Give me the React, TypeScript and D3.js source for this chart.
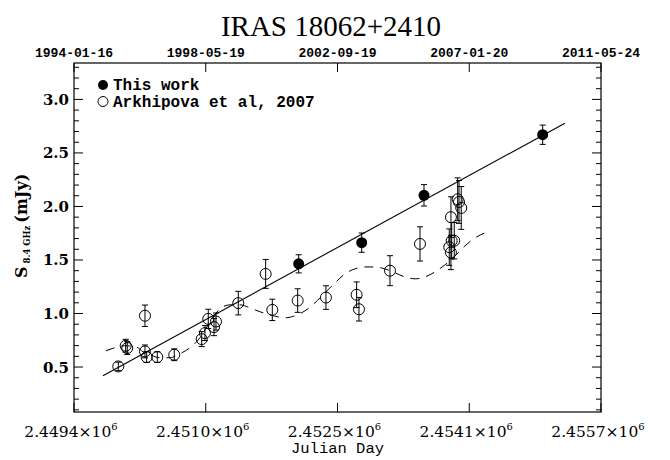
import React from "react";
import * as d3 from "d3";

// ---- data ----
const title = "IRAS 18062+2410";
const xTickJD = [2449368.5, 2450952.75, 2452537, 2454121.25, 2455705.5];
const xTopLabels = ["1994-01-16", "1998-05-19", "2002-09-19", "2007-01-20", "2011-05-24"];
const xBottomLabels = ["2.4494", "2.4510", "2.4525", "2.4541", "2.4557"];
const yMajorTicks = [0.5, 1.0, 1.5, 2.0, 2.5, 3.0];
const yMinorTicks = [0.1, 0.2, 0.3, 0.4, 0.6, 0.7, 0.8, 0.9, 1.1, 1.2, 1.3, 1.4, 1.6, 1.7, 1.8, 1.9, 2.1, 2.2, 2.3, 2.4, 2.6, 2.7, 2.8, 2.9, 3.1, 3.2, 3.3];
const yDomain = [0.08, 3.34];

// This work
const thisJD = [2452070, 2452828, 2453577, 2455004];
const thisS = [1.464, 1.662, 2.104, 2.67];
const thisErr = [0.085, 0.09, 0.1, 0.09];

// Arkhipova et al, 2007
const arkJD = [2449901, 2449990, 2450009, 2450222, 2450222, 2450242, 2450370, 2450574, 2450904, 2450943, 2450983, 2451052, 2451076, 2451344, 2451673, 2451753, 2452058, 2452398, 2452767, 2452795, 2453168, 2453529, 2453881, 2453901, 2453910, 2453941, 2453901, 2453982, 2453998, 2454025];
const arkS = [0.506, 0.699, 0.677, 0.979, 0.646, 0.593, 0.593, 0.615, 0.761, 0.817, 0.95, 0.873, 0.925, 1.097, 1.37, 1.034, 1.121, 1.149, 1.175, 1.04, 1.40, 1.65, 1.62, 1.57, 1.68, 1.68, 1.90, 2.067, 2.042, 1.986];
const arkErr = [0.04, 0.06, 0.06, 0.1, 0.06, 0.05, 0.05, 0.055, 0.07, 0.07, 0.09, 0.08, 0.08, 0.11, 0.135, 0.1, 0.11, 0.11, 0.12, 0.11, 0.14, 0.16, 0.17, 0.16, 0.17, 0.17, 0.19, 0.2, 0.2, 0.2];

// linear fit (solid)
const fitJD = [2449717, 2455272];
const fitS = [0.419, 2.778];

// dashed curve
const curveJD = [2449753, 2449837, 2449981, 2450114, 2450198, 2450282, 2450402, 2450522, 2450643, 2450763, 2450883, 2451003, 2451124, 2451244, 2451364, 2451484, 2451605, 2451725, 2451905, 2452026, 2452146, 2452266, 2452386, 2452507, 2452627, 2452747, 2452867, 2452988, 2453108, 2453228, 2453348, 2453469, 2453589, 2453709, 2453829, 2453950, 2454070, 2454190, 2454310];
const curveS = [0.652, 0.675, 0.699, 0.689, 0.643, 0.615, 0.587, 0.587, 0.625, 0.68, 0.773, 0.922, 1.044, 1.081, 1.081, 1.053, 1.016, 0.988, 0.96, 0.979, 1.025, 1.1, 1.193, 1.286, 1.37, 1.417, 1.435, 1.435, 1.417, 1.38, 1.342, 1.324, 1.342, 1.389, 1.454, 1.538, 1.632, 1.706, 1.753];

const legendLabels = ["This work", "Arkhipova et al, 2007"];

const W = 670, H = 460;
const L = 74, R = 601, T = 63, B = 412;

export default function App() {
  const x = d3.scaleLinear().domain([xTickJD[0], xTickJD[xTickJD.length - 1]]).range([L, R]);
  const y = d3.scaleLinear().domain(yDomain).range([B, T]);
  const curve = d3.line<number>().x((_, i) => x(curveJD[i])).y((d) => y(d)).curve(d3.curveMonotoneX);
  const fit = d3.line<number>().x((_, i) => x(fitJD[i])).y((d) => y(d));
  const serif = "'DejaVu Serif', serif";
  const mono = "'Liberation Mono', monospace";
  const cap = 3;

  const errBar = (jd: number, s: number, e: number, k: string) => (
    <g key={k} stroke="#000" strokeWidth={1}>
      <line x1={x(jd)} x2={x(jd)} y1={y(s - e)} y2={y(s + e)} />
      <line x1={x(jd) - cap} x2={x(jd) + cap} y1={y(s - e)} y2={y(s - e)} />
      <line x1={x(jd) - cap} x2={x(jd) + cap} y1={y(s + e)} y2={y(s + e)} />
    </g>
  );

  return (
    <svg width={W} height={H} style={{ position: "absolute", left: 0, top: 0, background: "#fff" }}>
      <rect x={0} y={0} width={W} height={H} fill="#fff" />
      <text x={331} y={36} textAnchor="middle" fontFamily="'Liberation Serif', serif" fontSize={29}>{title}</text>

      {/* frame */}
      <rect x={L} y={T} width={R - L} height={B - T} fill="none" stroke="#000" strokeWidth={1.2} />

      {/* x ticks */}
      {xTickJD.map((v, i) => (
        <g key={"xt" + i}>
          <line x1={x(v)} x2={x(v)} y1={B} y2={B - 9} stroke="#000" />
          <line x1={x(v)} x2={x(v)} y1={T} y2={T + 9} stroke="#000" />
          <text x={x(v)} y={57} textAnchor="middle" fontFamily={mono} fontWeight="bold" fontSize={13}>{xTopLabels[i]}</text>
          <text x={x(v) - 3} y={437} textAnchor="middle" fontFamily={serif} fontSize={15.5}>
            {xBottomLabels[i]}×10<tspan dy={-7} fontSize={10}>6</tspan>
          </text>
        </g>
      ))}
      <text x={(L + R) / 2} y={453} textAnchor="middle" fontFamily={mono} fontSize={15.5}>Julian Day</text>

      {/* y ticks */}
      {yMajorTicks.map((v, i) => (
        <g key={"ym" + i}>
          <line x1={L} x2={L + 9} y1={y(v)} y2={y(v)} stroke="#000" />
          <line x1={R} x2={R - 9} y1={y(v)} y2={y(v)} stroke="#000" />
          <text x={69} y={y(v) + 5.5} textAnchor="end" fontFamily={serif} fontWeight="bold" fontSize={15}>{d3.format(".1f")(v)}</text>
        </g>
      ))}
      {yMinorTicks.map((v, i) => (
        <g key={"yn" + i}>
          <line x1={L} x2={L + 5} y1={y(v)} y2={y(v)} stroke="#000" />
          <line x1={R} x2={R - 5} y1={y(v)} y2={y(v)} stroke="#000" />
        </g>
      ))}
      <text transform={`translate(27,${278}) rotate(-90)`} fontFamily={serif} fontWeight="bold" fontSize={16}>
        S<tspan dy={3} fontSize={8.5}> 8.4 GHz </tspan><tspan dy={-3}> (mJy)</tspan>
      </text>

      {/* curves */}
      <path d={curve(curveS) || ""} fill="none" stroke="#000" strokeWidth={1} strokeDasharray="9,7" />
      <path d={fit(fitS) || ""} fill="none" stroke="#000" strokeWidth={1.1} />

      {/* Arkhipova points */}
      {arkJD.map((jd, i) => errBar(jd, arkS[i], arkErr[i], "ae" + i))}
      {arkJD.map((jd, i) => (
        <circle key={"ac" + i} cx={x(jd)} cy={y(arkS[i])} r={5.5} fill="none" stroke="#000" strokeWidth={1} />
      ))}

      {/* This work */}
      {thisJD.map((jd, i) => errBar(jd, thisS[i], thisErr[i], "te" + i))}
      {thisJD.map((jd, i) => (
        <circle key={"tc" + i} cx={x(jd)} cy={y(thisS[i])} r={5.5} fill="#000" />
      ))}

      {/* legend */}
      <circle cx={103} cy={85} r={5} fill="#000" />
      <text x={113} y={90} fontFamily={mono} fontWeight="bold" fontSize={16}>{legendLabels[0]}</text>
      <circle cx={103} cy={101.5} r={5} fill="none" stroke="#000" />
      <text x={113} y={106.5} fontFamily={mono} fontWeight="bold" fontSize={16}>{legendLabels[1]}</text>
    </svg>
  );
}
